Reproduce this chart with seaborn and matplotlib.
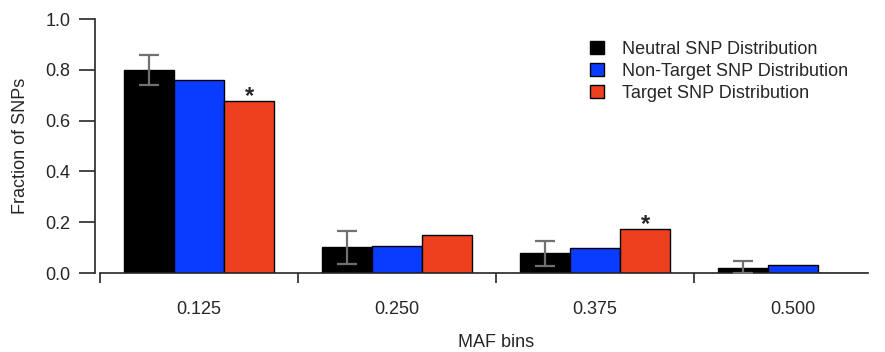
import matplotlib
matplotlib.use("Agg")
import matplotlib.pyplot as plt
import numpy as np
import pandas as pd
import seaborn as sns

# values
maf_bins = ["0.125", "0.250", "0.375", "0.500"]
series = ["Neutral SNP Distribution", "Non-Target SNP Distribution", "Target SNP Distribution"]
neutral = [0.800, 0.104, 0.079, 0.021]
non_target = [0.760, 0.108, 0.098, 0.033]
target = [0.677, 0.148, 0.173, 0.0]
neutral_lo = [0.740, 0.037, 0.028, 0.0]
neutral_hi = [0.858, 0.167, 0.127, 0.048]
starred_bins = ["0.125", "0.375"]

colors = ["#000000", "#0a3cff", "#ee3f1e"]

df = pd.DataFrame({
    "bin": maf_bins * 3,
    "series": np.repeat(series, len(maf_bins)),
    "fraction": neutral + non_target + target,
})

sns.set_style("ticks")
plt.rcParams["font.family"] = ["Liberation Sans", "DejaVu Sans"]

fig = plt.figure(figsize=(8.85, 3.52), dpi=100)
ax = fig.add_axes([100 / 885, 79 / 352, 792 / 885, 254 / 352])

sns.barplot(data=df, x="bin", y="fraction", hue="series", order=maf_bins,
            hue_order=series, palette=colors, saturation=1, width=0.76,
            errorbar=None, edgecolor="black", linewidth=1.0, ax=ax)

# error bars on the neutral bars
neutral_bars = ax.containers[0]
xs = [b.get_x() + b.get_width() / 2 for b in neutral_bars]
vals = np.array(neutral)
yerr = np.array([vals - np.array(neutral_lo), np.array(neutral_hi) - vals])
ax.errorbar(xs, vals, yerr=yerr, fmt="none", ecolor="#707070", elinewidth=1.6,
            capsize=7.5, capthick=1.6, zorder=5)

# asterisks above the target bars
for b, name in zip(ax.containers[2], maf_bins):
    if name in starred_bins:
        ax.text(b.get_x() + b.get_width() / 2, b.get_height() + 0.018, "*",
                ha="center", va="center", fontsize=17, fontweight="bold")

ax.set_xlim(-0.5, 3.5)
ax.set_ylim(0, 1.0)
ax.set_yticks(np.arange(0, 1.01, 0.2))
ax.set_yticklabels([f"{v:.1f}" for v in np.arange(0, 1.01, 0.2)])

ax.set_xticks(np.arange(-0.5, 4, 1.0))
ax.set_xticklabels([])
ax.set_xticks(range(len(maf_bins)), minor=True)
ax.set_xticklabels(maf_bins, minor=True)
ax.tick_params(axis="x", which="major", length=7, width=1.2, direction="out")
ax.tick_params(axis="x", which="minor", length=0, pad=20, labelsize=13)
ax.tick_params(axis="y", length=11.5, width=1.2, pad=6, labelsize=13)

sns.despine(ax=ax)
ax.spines["left"].set_position(("outward", 3.6))
ax.spines["left"].set_bounds(0, 1.0)
ax.spines["left"].set_linewidth(1.2)
ax.spines["bottom"].set_linewidth(1.2)
ax.spines["bottom"].set_bounds(-0.5, 3.38)

ax.set_xlabel("MAF bins", fontsize=13, labelpad=12)
ax.set_ylabel("Fraction of SNPs", fontsize=13, labelpad=12)

ax.legend(loc="upper left", bbox_to_anchor=(0.619, 0.915), frameon=False,
          fontsize=13, handlelength=0.75, handleheight=0.7, handletextpad=1.0,
          labelspacing=0.28, borderpad=0, borderaxespad=0)

fig.savefig("out.png", dpi=100)
